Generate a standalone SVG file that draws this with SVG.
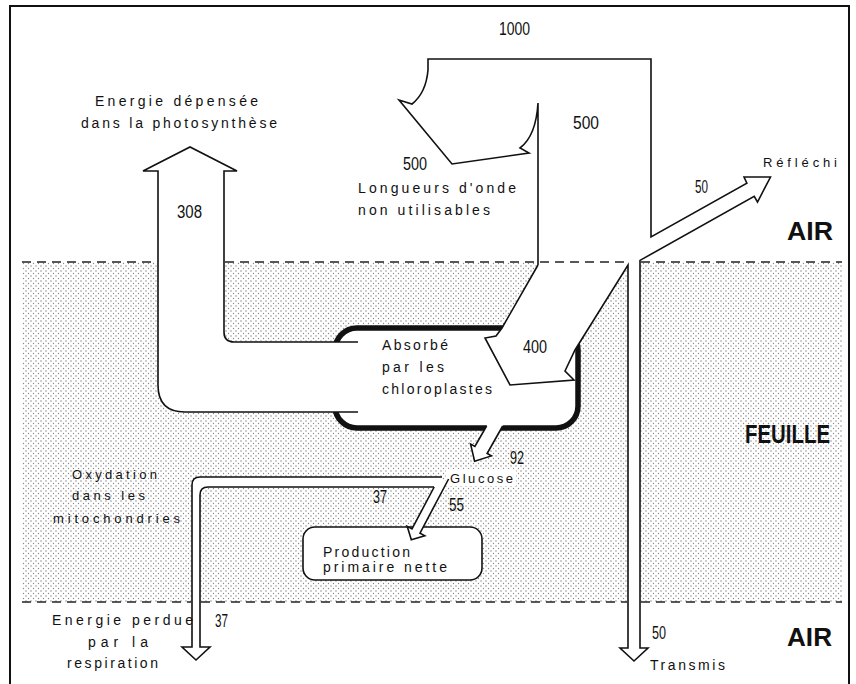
<svg xmlns="http://www.w3.org/2000/svg" width="856" height="684" viewBox="0 0 856 684">
<defs>
<pattern id="dots" width="5" height="5" patternUnits="userSpaceOnUse">
<rect width="5" height="5" fill="#fff"/>
<circle cx="1" cy="1" r="0.65" fill="#777"/>
<circle cx="3.5" cy="3.5" r="0.65" fill="#888"/>
</pattern>
<style>
.ln{fill:none;stroke:#111;stroke-width:1.6;stroke-linejoin:miter}
.wf{fill:#fff;stroke:none}
.dash{fill:none;stroke:#222;stroke-width:1.6;stroke-dasharray:9 6}
.t{font-family:"Liberation Sans",Arial,sans-serif;font-size:14px;fill:#111}
.s{font-size:13px}
.n{font-family:"Liberation Sans",Arial,sans-serif;font-size:18px;fill:#111}
.b{font-family:"Liberation Sans",Arial,sans-serif;font-size:26px;font-weight:bold;fill:#111}
</style>
</defs>
<rect width="856" height="684" fill="#fff"/>
<g id="frame" fill="none" stroke="#111" stroke-width="2">
<path d="M10,684 L10,6 L849,6 L849,684"/>
</g>
<g id="leaf">
<rect x="22" y="262" width="820" height="340" fill="url(#dots)"/>
</g>
<g id="chloroplast">
<rect x="335" y="328" width="243" height="100" rx="22" fill="#fff" stroke="#111" stroke-width="5.5"/>
</g>
<g id="production">
<rect x="303" y="527" width="179" height="53" rx="12" fill="#fff" stroke="#111" stroke-width="1.6"/>
</g>
<g id="glucose">
<rect x="446" y="469" width="70" height="17" fill="#fff"/>
</g>
<g id="flows">
<path class="wf" d="M358,342 L234,342 Q224,342 224,332 L224,171 L237,171 L190,147 L143,171 L158,171 L158,385 Q158,412 185,412 L358,412 Z"/>
<path class="wf" d="M538,250 L640,250 L640,648 L648,648 L634,661 L620,648 L628,648 L628,265 L575,350 L565,371 L574,380 L510,385 L485,338 L496,336 L502,328 L538,265 Z"/>
<path class="wf" d="M491.9,416.6 L474.9,446.5 L470.6,444.1 L474.6,461.3 L491.4,455.9 L487.1,453.5 L504.1,423.5 Z"/>
<path class="wf" d="M442,477 L200,477 Q192,477 192,485 L192,647 L182,647 L196,660 L210,647 L200,647 L200,495 Q200,487 208,487 L442,487 Z"/>
<path class="wf" d="M448.6,479 L420,533.1 L424.8,535.7 L411.3,539.8 L407.2,526.3 L412,528.9 L434.2,487 Z"/>
<path class="dash" d="M22,262 L157,262 M225,262 L627,262 M641,262 L842,262"/>
<path class="dash" d="M22,602 L191,602 M201,602 L627,602 M641,602 L842,602"/>
<path class="ln" d="M358,342 L234,342 Q224,342 224,332 L224,171 L237,171 L190,147 L143,171 L158,171 L158,385 Q158,412 185,412 L358,412"/>
<path class="ln" d="M538,265 L538,103 Q536,136 520,148 L529,153 L452,164 L399,100 L412,104 Q426,93 428,70 L428,59 L651,59 L651,237 L746.9,183.2 L744,177 L770.5,177 L757.5,202 L754.2,196.3 L640,260.4 L640,648 L648,648 L634,661 L620,648 L628,648 L628,265 L575,350 L565,371 L574,380 L510,385 L485,338 L496,336 L502,328 L538,265"/>
<path class="ln" d="M486.6,426 L474.9,446.5 L470.6,444.1 L474.6,461.3 L491.4,455.9 L487.1,453.5 L502.7,426"/>
<path class="ln" d="M442,477 L200,477 Q192,477 192,485 L192,647 L182,647 L196,660 L210,647 L200,647 L200,495 Q200,487 208,487 L434,487"/>
<path class="ln" d="M448.6,479 L420,533.1 L424.8,535.7 L411.3,539.8 L407.2,526.3 L412,528.9 L434.2,487"/>
</g>
<g id="labels">
<text class="t" x="95" y="106" textLength="163" lengthAdjust="spacing">Energie dépensée</text>
<text class="t" x="81" y="128" textLength="196" lengthAdjust="spacing">dans la photosynthèse</text>
<text class="t" x="358" y="193" textLength="158" lengthAdjust="spacing">Longueurs d'onde</text>
<text class="t" x="358" y="215" textLength="132" lengthAdjust="spacing">non utilisables</text>
<text class="t s" x="763" y="167" textLength="74" lengthAdjust="spacing">Réfléchi</text>
<text class="t" x="382" y="350" textLength="66" lengthAdjust="spacing">Absorbé</text>
<text class="t" x="382" y="372" textLength="62" lengthAdjust="spacing">par les</text>
<text class="t" x="382" y="394" textLength="110" lengthAdjust="spacing">chloroplastes</text>
<text class="t s" x="450" y="483" textLength="63" lengthAdjust="spacing">Glucose</text>
<text class="t" x="323" y="557" textLength="87" lengthAdjust="spacing">Production</text>
<text class="t" x="323" y="572" textLength="124" lengthAdjust="spacing">primaire nette</text>
<text class="t s" x="72" y="479" textLength="85" lengthAdjust="spacing">Oxydation</text>
<text class="t s" x="72" y="500" textLength="73" lengthAdjust="spacing">dans les</text>
<text class="t s" x="53" y="523" textLength="127" lengthAdjust="spacing">mitochondries</text>
<text class="t" x="52" y="625" textLength="141" lengthAdjust="spacing">Energie perdue</text>
<text class="t" x="88" y="647" textLength="60" lengthAdjust="spacing">par la</text>
<text class="t" x="67" y="668" textLength="91" lengthAdjust="spacing">respiration</text>
<text class="t" x="650" y="670" textLength="75" lengthAdjust="spacing">Transmis</text>
<text class="n" x="499" y="35" textLength="31" lengthAdjust="spacingAndGlyphs">1000</text>
<text class="n" x="573" y="129" textLength="26" lengthAdjust="spacingAndGlyphs">500</text>
<text class="n" x="403" y="170" textLength="24" lengthAdjust="spacingAndGlyphs">500</text>
<text class="n" x="177" y="218" textLength="25" lengthAdjust="spacingAndGlyphs">308</text>
<text class="n" x="695" y="193" textLength="13" lengthAdjust="spacingAndGlyphs">50</text>
<text class="n" x="523" y="353" textLength="24" lengthAdjust="spacingAndGlyphs">400</text>
<text class="n" x="510" y="464" textLength="14" lengthAdjust="spacingAndGlyphs">92</text>
<text class="n" x="373" y="503" textLength="14" lengthAdjust="spacingAndGlyphs">37</text>
<text class="n" x="449" y="511" textLength="15" lengthAdjust="spacingAndGlyphs">55</text>
<text class="n" x="215" y="627" textLength="13" lengthAdjust="spacingAndGlyphs">37</text>
<text class="n" x="652" y="639" textLength="14" lengthAdjust="spacingAndGlyphs">50</text>
<text class="b" x="787" y="240" textLength="46" lengthAdjust="spacingAndGlyphs">AIR</text>
<text class="b" x="745" y="443" textLength="85" lengthAdjust="spacingAndGlyphs">FEUILLE</text>
<text class="b" x="787" y="646" textLength="45" lengthAdjust="spacingAndGlyphs">AIR</text>
</g>
</svg>
